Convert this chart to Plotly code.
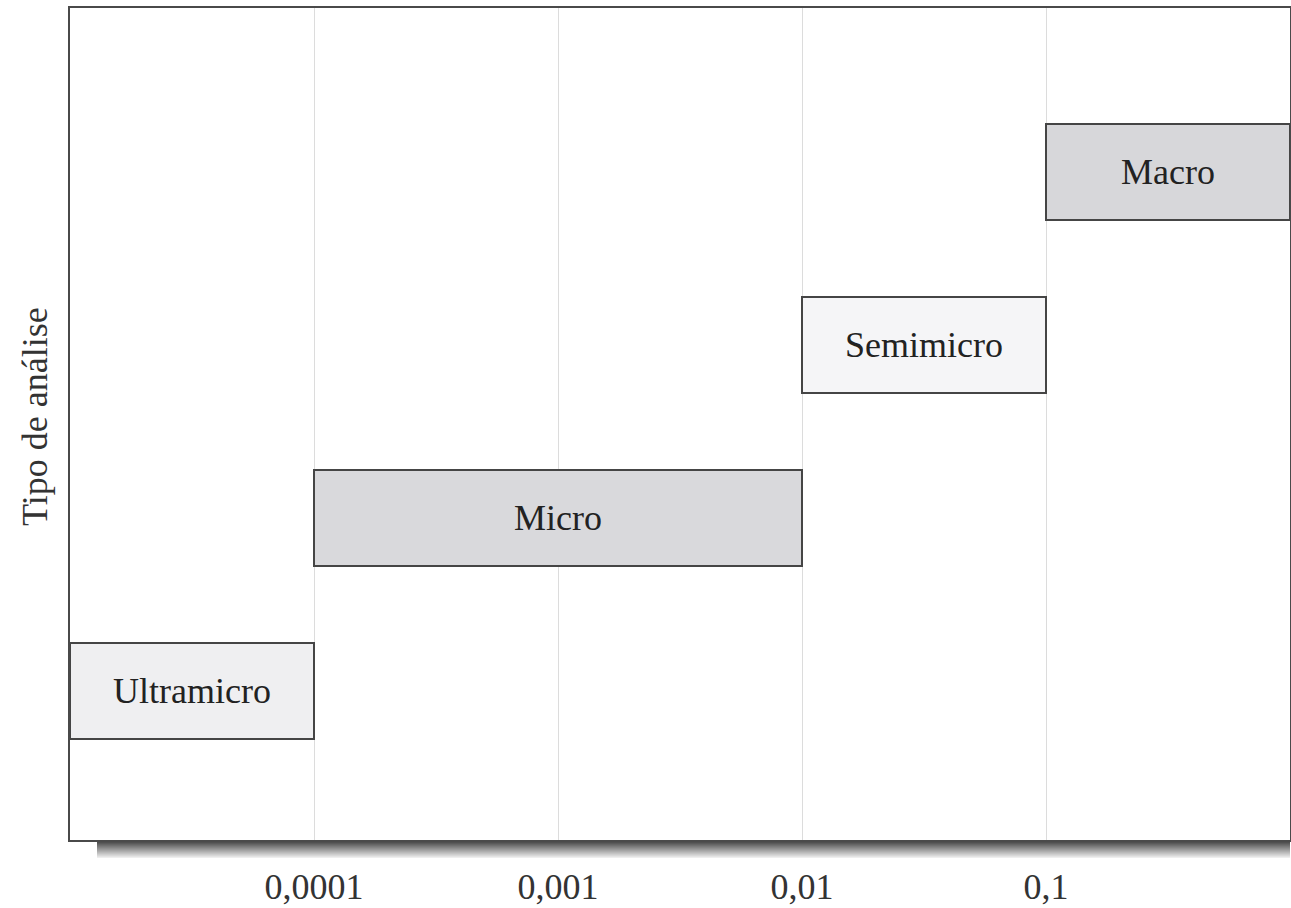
import plotly.graph_objects as go

# Data
categories = ["Ultramicro", "Micro", "Semimicro", "Macro"]
range_start = [0.00001, 0.0001, 0.01, 0.1]
range_end = [0.0001, 0.01, 0.1, 1.0]
tick_values = [0.0001, 0.001, 0.01, 0.1]
tick_labels = ["0,0001", "0,001", "0,01", "0,1"]

fills = ["#efeff1", "#d9d9dc", "#f5f5f7", "#d7d7da"]
FONT = "Liberation Serif, Times New Roman, serif"

widths = [e - s for s, e in zip(range_start, range_end)]

W, H = 1291, 908
L, R, T, B = 70, 1, 8, 68
pw = W - L - R
ph = H - T - B


def px_x(page_x):
    return (page_x - L) / pw


def px_y(page_y):
    return 1 - (page_y - T) / ph


fig = go.Figure()
fig.add_trace(go.Bar(
    y=list(range(len(categories))),
    x=widths,
    base=range_start,
    orientation="h",
    width=0.555,
    marker=dict(color=fills, line=dict(color="#454545", width=2)),
    text=categories,
    textposition="inside",
    insidetextanchor="middle",
    textfont=dict(family=FONT, size=36, color="#222222"),
    constraintext="none",
    hoverinfo="skip",
    showlegend=False,
))

# shadow under the x axis (decoration): stacked strips fading out
shapes = []
shadow_top = 842
n = 16
for i in range(n):
    g = int(80 + (238 - 80) * i / (n - 1))
    y0 = shadow_top + i
    shapes.append(dict(
        type="rect", xref="paper", yref="paper",
        x0=px_x(97), x1=px_x(1290),
        y0=px_y(y0 + 1), y1=px_y(y0),
        fillcolor=f"rgb({g},{g},{g})", line=dict(width=0), layer="below",
    ))

fig.update_layout(
    width=W, height=H,
    margin=dict(l=L, r=R, t=T, b=B, autoexpand=False),
    plot_bgcolor="white", paper_bgcolor="white",
    font=dict(family=FONT, size=36, color="#333333"),
    shapes=shapes,
    xaxis=dict(
        type="log", range=[-5, 0],
        tickvals=tick_values, ticktext=tick_labels,
        showgrid=True, gridcolor="#dcdcdc", gridwidth=1,
        showline=True, linecolor="#4a4a4a", linewidth=2, mirror=True,
        ticks="outside", ticklen=14, tickcolor="rgba(0,0,0,0)",
        tickfont=dict(family=FONT, size=36, color="#333333"),
        zeroline=False,
    ),
    yaxis=dict(
        range=[-0.86, 3.95],
        showticklabels=False, showgrid=False, zeroline=False,
        showline=True, linecolor="#4a4a4a", linewidth=2, mirror=True,
        ticks="",
    ),
    annotations=[dict(
        text="Tipo de análise", xref="paper", yref="paper",
        x=px_x(35), y=px_y(417), textangle=-90, showarrow=False,
        xanchor="center", yanchor="middle",
        font=dict(family=FONT, size=36, color="#333333"),
    )],
    bargap=0,
)

fig.write_html(
    "out.html",
    config={"displayModeBar": False},
    post_script="document.body.style.margin='0';document.body.style.overflow='hidden';",
)
